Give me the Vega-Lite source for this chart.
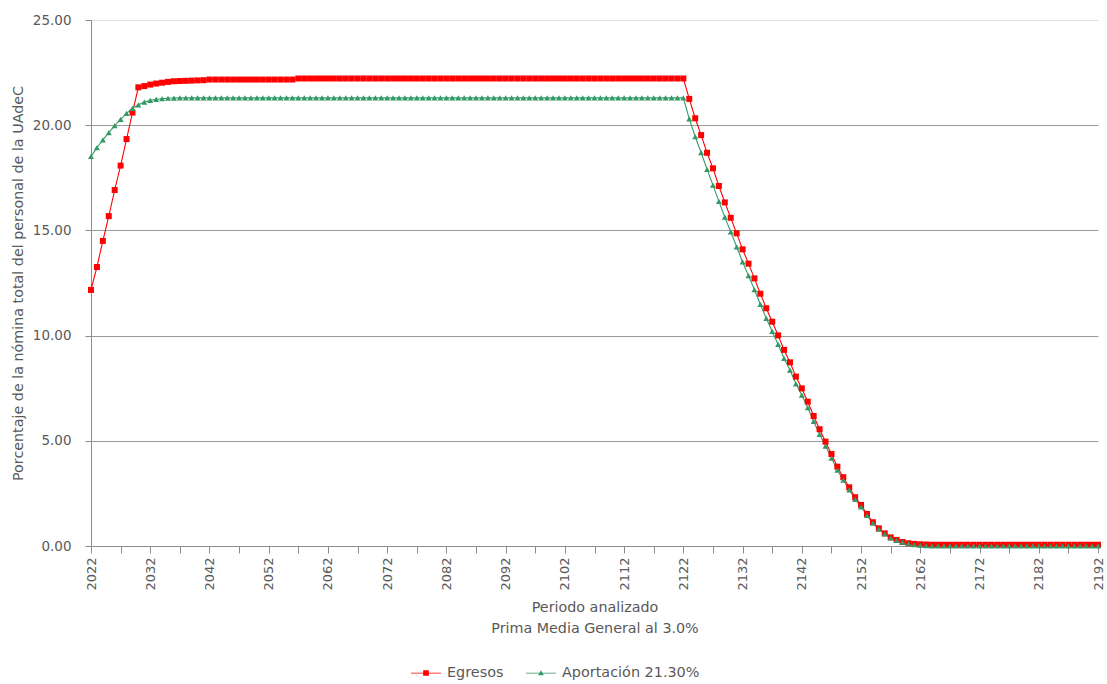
{
"$schema":"https://vega.github.io/schema/vega-lite/v6.json",
"autosize":{"type":"none"},
"width":1007,"height":526,
"padding":{"left":91,"top":20,"right":9,"bottom":138},
"background":"white",
"config":{"view":{"stroke":null},"font":"DejaVu Sans"},
"data":{"values":[
{"year":2022,"series":"Egresos","value":12.17},{"year":2023,"series":"Egresos","value":13.26},{"year":2024,"series":"Egresos","value":14.5},{"year":2025,"series":"Egresos","value":15.68},{"year":2026,"series":"Egresos","value":16.92},{"year":2027,"series":"Egresos","value":18.08},{"year":2028,"series":"Egresos","value":19.34},{"year":2029,"series":"Egresos","value":20.6},{"year":2030,"series":"Egresos","value":21.8},{"year":2031,"series":"Egresos","value":21.86},{"year":2032,"series":"Egresos","value":21.93},{"year":2033,"series":"Egresos","value":21.98},{"year":2034,"series":"Egresos","value":22.02},{"year":2035,"series":"Egresos","value":22.06},{"year":2036,"series":"Egresos","value":22.09},{"year":2037,"series":"Egresos","value":22.1},{"year":2038,"series":"Egresos","value":22.11},{"year":2039,"series":"Egresos","value":22.12},{"year":2040,"series":"Egresos","value":22.13},{"year":2041,"series":"Egresos","value":22.14},
{"year":2042,"series":"Egresos","value":22.17},{"year":2043,"series":"Egresos","value":22.17},{"year":2044,"series":"Egresos","value":22.17},{"year":2045,"series":"Egresos","value":22.17},{"year":2046,"series":"Egresos","value":22.17},{"year":2047,"series":"Egresos","value":22.17},{"year":2048,"series":"Egresos","value":22.17},{"year":2049,"series":"Egresos","value":22.17},{"year":2050,"series":"Egresos","value":22.17},{"year":2051,"series":"Egresos","value":22.17},{"year":2052,"series":"Egresos","value":22.17},{"year":2053,"series":"Egresos","value":22.17},{"year":2054,"series":"Egresos","value":22.17},{"year":2055,"series":"Egresos","value":22.17},{"year":2056,"series":"Egresos","value":22.17},
{"year":2057,"series":"Egresos","value":22.22},{"year":2058,"series":"Egresos","value":22.22},{"year":2059,"series":"Egresos","value":22.22},{"year":2060,"series":"Egresos","value":22.22},{"year":2061,"series":"Egresos","value":22.22},{"year":2062,"series":"Egresos","value":22.22},{"year":2063,"series":"Egresos","value":22.22},{"year":2064,"series":"Egresos","value":22.22},{"year":2065,"series":"Egresos","value":22.22},{"year":2066,"series":"Egresos","value":22.22},{"year":2067,"series":"Egresos","value":22.22},{"year":2068,"series":"Egresos","value":22.22},{"year":2069,"series":"Egresos","value":22.22},{"year":2070,"series":"Egresos","value":22.22},{"year":2071,"series":"Egresos","value":22.22},{"year":2072,"series":"Egresos","value":22.22},{"year":2073,"series":"Egresos","value":22.22},{"year":2074,"series":"Egresos","value":22.22},{"year":2075,"series":"Egresos","value":22.22},{"year":2076,"series":"Egresos","value":22.22},{"year":2077,"series":"Egresos","value":22.22},{"year":2078,"series":"Egresos","value":22.22},{"year":2079,"series":"Egresos","value":22.22},{"year":2080,"series":"Egresos","value":22.22},{"year":2081,"series":"Egresos","value":22.22},{"year":2082,"series":"Egresos","value":22.22},{"year":2083,"series":"Egresos","value":22.22},{"year":2084,"series":"Egresos","value":22.22},{"year":2085,"series":"Egresos","value":22.22},{"year":2086,"series":"Egresos","value":22.22},{"year":2087,"series":"Egresos","value":22.22},{"year":2088,"series":"Egresos","value":22.22},{"year":2089,"series":"Egresos","value":22.22},{"year":2090,"series":"Egresos","value":22.22},{"year":2091,"series":"Egresos","value":22.22},{"year":2092,"series":"Egresos","value":22.22},{"year":2093,"series":"Egresos","value":22.22},{"year":2094,"series":"Egresos","value":22.22},{"year":2095,"series":"Egresos","value":22.22},{"year":2096,"series":"Egresos","value":22.22},{"year":2097,"series":"Egresos","value":22.22},{"year":2098,"series":"Egresos","value":22.22},{"year":2099,"series":"Egresos","value":22.22},{"year":2100,"series":"Egresos","value":22.22},{"year":2101,"series":"Egresos","value":22.22},{"year":2102,"series":"Egresos","value":22.22},{"year":2103,"series":"Egresos","value":22.22},{"year":2104,"series":"Egresos","value":22.22},{"year":2105,"series":"Egresos","value":22.22},{"year":2106,"series":"Egresos","value":22.22},{"year":2107,"series":"Egresos","value":22.22},{"year":2108,"series":"Egresos","value":22.22},{"year":2109,"series":"Egresos","value":22.22},{"year":2110,"series":"Egresos","value":22.22},{"year":2111,"series":"Egresos","value":22.22},{"year":2112,"series":"Egresos","value":22.22},{"year":2113,"series":"Egresos","value":22.22},{"year":2114,"series":"Egresos","value":22.22},{"year":2115,"series":"Egresos","value":22.22},{"year":2116,"series":"Egresos","value":22.22},{"year":2117,"series":"Egresos","value":22.22},{"year":2118,"series":"Egresos","value":22.22},{"year":2119,"series":"Egresos","value":22.22},{"year":2120,"series":"Egresos","value":22.22},{"year":2121,"series":"Egresos","value":22.22},{"year":2122,"series":"Egresos","value":22.22},
{"year":2123,"series":"Egresos","value":21.25},{"year":2124,"series":"Egresos","value":20.33},{"year":2125,"series":"Egresos","value":19.53},{"year":2126,"series":"Egresos","value":18.69},{"year":2127,"series":"Egresos","value":17.95},{"year":2128,"series":"Egresos","value":17.11},{"year":2129,"series":"Egresos","value":16.33},{"year":2130,"series":"Egresos","value":15.6},{"year":2131,"series":"Egresos","value":14.86},{"year":2132,"series":"Egresos","value":14.1},{"year":2133,"series":"Egresos","value":13.42},{"year":2134,"series":"Egresos","value":12.72},{"year":2135,"series":"Egresos","value":11.99},{"year":2136,"series":"Egresos","value":11.3},{"year":2137,"series":"Egresos","value":10.66},{"year":2138,"series":"Egresos","value":10.01},{"year":2139,"series":"Egresos","value":9.32},{"year":2140,"series":"Egresos","value":8.73},{"year":2141,"series":"Egresos","value":8.05},{"year":2142,"series":"Egresos","value":7.49},{"year":2143,"series":"Egresos","value":6.86},{"year":2144,"series":"Egresos","value":6.18},{"year":2145,"series":"Egresos","value":5.55},{"year":2146,"series":"Egresos","value":4.96},{"year":2147,"series":"Egresos","value":4.37},{"year":2148,"series":"Egresos","value":3.77},{"year":2149,"series":"Egresos","value":3.27},{"year":2150,"series":"Egresos","value":2.79},{"year":2151,"series":"Egresos","value":2.32},{"year":2152,"series":"Egresos","value":1.95},{"year":2153,"series":"Egresos","value":1.52},{"year":2154,"series":"Egresos","value":1.13},{"year":2155,"series":"Egresos","value":0.84},{"year":2156,"series":"Egresos","value":0.6},{"year":2157,"series":"Egresos","value":0.41},{"year":2158,"series":"Egresos","value":0.29},{"year":2159,"series":"Egresos","value":0.19},{"year":2160,"series":"Egresos","value":0.13},{"year":2161,"series":"Egresos","value":0.1},{"year":2162,"series":"Egresos","value":0.08},{"year":2163,"series":"Egresos","value":0.07},
{"year":2164,"series":"Egresos","value":0.06},{"year":2165,"series":"Egresos","value":0.06},{"year":2166,"series":"Egresos","value":0.06},{"year":2167,"series":"Egresos","value":0.06},{"year":2168,"series":"Egresos","value":0.06},{"year":2169,"series":"Egresos","value":0.06},{"year":2170,"series":"Egresos","value":0.06},{"year":2171,"series":"Egresos","value":0.06},{"year":2172,"series":"Egresos","value":0.06},{"year":2173,"series":"Egresos","value":0.06},{"year":2174,"series":"Egresos","value":0.06},{"year":2175,"series":"Egresos","value":0.06},{"year":2176,"series":"Egresos","value":0.06},{"year":2177,"series":"Egresos","value":0.06},{"year":2178,"series":"Egresos","value":0.06},{"year":2179,"series":"Egresos","value":0.06},{"year":2180,"series":"Egresos","value":0.06},{"year":2181,"series":"Egresos","value":0.06},{"year":2182,"series":"Egresos","value":0.06},{"year":2183,"series":"Egresos","value":0.06},{"year":2184,"series":"Egresos","value":0.06},{"year":2185,"series":"Egresos","value":0.06},{"year":2186,"series":"Egresos","value":0.06},{"year":2187,"series":"Egresos","value":0.06},{"year":2188,"series":"Egresos","value":0.06},{"year":2189,"series":"Egresos","value":0.06},{"year":2190,"series":"Egresos","value":0.06},{"year":2191,"series":"Egresos","value":0.06},{"year":2192,"series":"Egresos","value":0.06},
{"year":2022,"series":"Aportación 21.30%","value":18.52},{"year":2023,"series":"Aportación 21.30%","value":18.93},{"year":2024,"series":"Aportación 21.30%","value":19.3},{"year":2025,"series":"Aportación 21.30%","value":19.65},{"year":2026,"series":"Aportación 21.30%","value":19.98},{"year":2027,"series":"Aportación 21.30%","value":20.28},{"year":2028,"series":"Aportación 21.30%","value":20.56},{"year":2029,"series":"Aportación 21.30%","value":20.8},{"year":2030,"series":"Aportación 21.30%","value":20.97},{"year":2031,"series":"Aportación 21.30%","value":21.1},{"year":2032,"series":"Aportación 21.30%","value":21.18},{"year":2033,"series":"Aportación 21.30%","value":21.23},{"year":2034,"series":"Aportación 21.30%","value":21.26},{"year":2035,"series":"Aportación 21.30%","value":21.28},{"year":2036,"series":"Aportación 21.30%","value":21.29},
{"year":2037,"series":"Aportación 21.30%","value":21.3},{"year":2038,"series":"Aportación 21.30%","value":21.3},{"year":2039,"series":"Aportación 21.30%","value":21.3},{"year":2040,"series":"Aportación 21.30%","value":21.3},{"year":2041,"series":"Aportación 21.30%","value":21.3},{"year":2042,"series":"Aportación 21.30%","value":21.3},{"year":2043,"series":"Aportación 21.30%","value":21.3},{"year":2044,"series":"Aportación 21.30%","value":21.3},{"year":2045,"series":"Aportación 21.30%","value":21.3},{"year":2046,"series":"Aportación 21.30%","value":21.3},{"year":2047,"series":"Aportación 21.30%","value":21.3},{"year":2048,"series":"Aportación 21.30%","value":21.3},{"year":2049,"series":"Aportación 21.30%","value":21.3},{"year":2050,"series":"Aportación 21.30%","value":21.3},{"year":2051,"series":"Aportación 21.30%","value":21.3},{"year":2052,"series":"Aportación 21.30%","value":21.3},{"year":2053,"series":"Aportación 21.30%","value":21.3},{"year":2054,"series":"Aportación 21.30%","value":21.3},{"year":2055,"series":"Aportación 21.30%","value":21.3},{"year":2056,"series":"Aportación 21.30%","value":21.3},{"year":2057,"series":"Aportación 21.30%","value":21.3},{"year":2058,"series":"Aportación 21.30%","value":21.3},{"year":2059,"series":"Aportación 21.30%","value":21.3},{"year":2060,"series":"Aportación 21.30%","value":21.3},{"year":2061,"series":"Aportación 21.30%","value":21.3},{"year":2062,"series":"Aportación 21.30%","value":21.3},{"year":2063,"series":"Aportación 21.30%","value":21.3},{"year":2064,"series":"Aportación 21.30%","value":21.3},{"year":2065,"series":"Aportación 21.30%","value":21.3},{"year":2066,"series":"Aportación 21.30%","value":21.3},{"year":2067,"series":"Aportación 21.30%","value":21.3},{"year":2068,"series":"Aportación 21.30%","value":21.3},{"year":2069,"series":"Aportación 21.30%","value":21.3},{"year":2070,"series":"Aportación 21.30%","value":21.3},{"year":2071,"series":"Aportación 21.30%","value":21.3},{"year":2072,"series":"Aportación 21.30%","value":21.3},{"year":2073,"series":"Aportación 21.30%","value":21.3},{"year":2074,"series":"Aportación 21.30%","value":21.3},{"year":2075,"series":"Aportación 21.30%","value":21.3},{"year":2076,"series":"Aportación 21.30%","value":21.3},{"year":2077,"series":"Aportación 21.30%","value":21.3},{"year":2078,"series":"Aportación 21.30%","value":21.3},{"year":2079,"series":"Aportación 21.30%","value":21.3},{"year":2080,"series":"Aportación 21.30%","value":21.3},{"year":2081,"series":"Aportación 21.30%","value":21.3},{"year":2082,"series":"Aportación 21.30%","value":21.3},{"year":2083,"series":"Aportación 21.30%","value":21.3},{"year":2084,"series":"Aportación 21.30%","value":21.3},{"year":2085,"series":"Aportación 21.30%","value":21.3},{"year":2086,"series":"Aportación 21.30%","value":21.3},{"year":2087,"series":"Aportación 21.30%","value":21.3},{"year":2088,"series":"Aportación 21.30%","value":21.3},{"year":2089,"series":"Aportación 21.30%","value":21.3},{"year":2090,"series":"Aportación 21.30%","value":21.3},{"year":2091,"series":"Aportación 21.30%","value":21.3},{"year":2092,"series":"Aportación 21.30%","value":21.3},{"year":2093,"series":"Aportación 21.30%","value":21.3},{"year":2094,"series":"Aportación 21.30%","value":21.3},{"year":2095,"series":"Aportación 21.30%","value":21.3},{"year":2096,"series":"Aportación 21.30%","value":21.3},{"year":2097,"series":"Aportación 21.30%","value":21.3},{"year":2098,"series":"Aportación 21.30%","value":21.3},{"year":2099,"series":"Aportación 21.30%","value":21.3},{"year":2100,"series":"Aportación 21.30%","value":21.3},{"year":2101,"series":"Aportación 21.30%","value":21.3},{"year":2102,"series":"Aportación 21.30%","value":21.3},{"year":2103,"series":"Aportación 21.30%","value":21.3},{"year":2104,"series":"Aportación 21.30%","value":21.3},{"year":2105,"series":"Aportación 21.30%","value":21.3},{"year":2106,"series":"Aportación 21.30%","value":21.3},{"year":2107,"series":"Aportación 21.30%","value":21.3},{"year":2108,"series":"Aportación 21.30%","value":21.3},{"year":2109,"series":"Aportación 21.30%","value":21.3},{"year":2110,"series":"Aportación 21.30%","value":21.3},{"year":2111,"series":"Aportación 21.30%","value":21.3},{"year":2112,"series":"Aportación 21.30%","value":21.3},{"year":2113,"series":"Aportación 21.30%","value":21.3},{"year":2114,"series":"Aportación 21.30%","value":21.3},{"year":2115,"series":"Aportación 21.30%","value":21.3},{"year":2116,"series":"Aportación 21.30%","value":21.3},{"year":2117,"series":"Aportación 21.30%","value":21.3},{"year":2118,"series":"Aportación 21.30%","value":21.3},{"year":2119,"series":"Aportación 21.30%","value":21.3},{"year":2120,"series":"Aportación 21.30%","value":21.3},{"year":2121,"series":"Aportación 21.30%","value":21.3},{"year":2122,"series":"Aportación 21.30%","value":21.3},
{"year":2123,"series":"Aportación 21.30%","value":20.3},{"year":2124,"series":"Aportación 21.30%","value":19.45},{"year":2125,"series":"Aportación 21.30%","value":18.7},{"year":2126,"series":"Aportación 21.30%","value":17.9},{"year":2127,"series":"Aportación 21.30%","value":17.15},{"year":2128,"series":"Aportación 21.30%","value":16.38},{"year":2129,"series":"Aportación 21.30%","value":15.63},{"year":2130,"series":"Aportación 21.30%","value":14.93},{"year":2131,"series":"Aportación 21.30%","value":14.22},{"year":2132,"series":"Aportación 21.30%","value":13.5},{"year":2133,"series":"Aportación 21.30%","value":12.85},{"year":2134,"series":"Aportación 21.30%","value":12.18},{"year":2135,"series":"Aportación 21.30%","value":11.48},{"year":2136,"series":"Aportación 21.30%","value":10.82},{"year":2137,"series":"Aportación 21.30%","value":10.2},{"year":2138,"series":"Aportación 21.30%","value":9.58},{"year":2139,"series":"Aportación 21.30%","value":8.92},{"year":2140,"series":"Aportación 21.30%","value":8.36},{"year":2141,"series":"Aportación 21.30%","value":7.71},{"year":2142,"series":"Aportación 21.30%","value":7.17},{"year":2143,"series":"Aportación 21.30%","value":6.57},{"year":2144,"series":"Aportación 21.30%","value":5.92},{"year":2145,"series":"Aportación 21.30%","value":5.31},{"year":2146,"series":"Aportación 21.30%","value":4.75},{"year":2147,"series":"Aportación 21.30%","value":4.18},{"year":2148,"series":"Aportación 21.30%","value":3.61},{"year":2149,"series":"Aportación 21.30%","value":3.13},{"year":2150,"series":"Aportación 21.30%","value":2.67},{"year":2151,"series":"Aportación 21.30%","value":2.22},{"year":2152,"series":"Aportación 21.30%","value":1.86},{"year":2153,"series":"Aportación 21.30%","value":1.45},{"year":2154,"series":"Aportación 21.30%","value":1.08},{"year":2155,"series":"Aportación 21.30%","value":0.8},{"year":2156,"series":"Aportación 21.30%","value":0.57},{"year":2157,"series":"Aportación 21.30%","value":0.39},{"year":2158,"series":"Aportación 21.30%","value":0.27},{"year":2159,"series":"Aportación 21.30%","value":0.18},{"year":2160,"series":"Aportación 21.30%","value":0.12},{"year":2161,"series":"Aportación 21.30%","value":0.07},{"year":2162,"series":"Aportación 21.30%","value":0.04},{"year":2163,"series":"Aportación 21.30%","value":0.02},
{"year":2164,"series":"Aportación 21.30%","value":0.01},{"year":2165,"series":"Aportación 21.30%","value":0.01},{"year":2166,"series":"Aportación 21.30%","value":0.01},{"year":2167,"series":"Aportación 21.30%","value":0.01},{"year":2168,"series":"Aportación 21.30%","value":0.01},{"year":2169,"series":"Aportación 21.30%","value":0.01},{"year":2170,"series":"Aportación 21.30%","value":0.01},{"year":2171,"series":"Aportación 21.30%","value":0.01},{"year":2172,"series":"Aportación 21.30%","value":0.01},{"year":2173,"series":"Aportación 21.30%","value":0.01},{"year":2174,"series":"Aportación 21.30%","value":0.01},{"year":2175,"series":"Aportación 21.30%","value":0.01},{"year":2176,"series":"Aportación 21.30%","value":0.01},{"year":2177,"series":"Aportación 21.30%","value":0.01},{"year":2178,"series":"Aportación 21.30%","value":0.01},{"year":2179,"series":"Aportación 21.30%","value":0.01},{"year":2180,"series":"Aportación 21.30%","value":0.01},{"year":2181,"series":"Aportación 21.30%","value":0.01},{"year":2182,"series":"Aportación 21.30%","value":0.01},{"year":2183,"series":"Aportación 21.30%","value":0.01},{"year":2184,"series":"Aportación 21.30%","value":0.01},{"year":2185,"series":"Aportación 21.30%","value":0.01},{"year":2186,"series":"Aportación 21.30%","value":0.01},{"year":2187,"series":"Aportación 21.30%","value":0.01},{"year":2188,"series":"Aportación 21.30%","value":0.01},{"year":2189,"series":"Aportación 21.30%","value":0.01},{"year":2190,"series":"Aportación 21.30%","value":0.01},{"year":2191,"series":"Aportación 21.30%","value":0.01},{"year":2192,"series":"Aportación 21.30%","value":0.01}
]},
"encoding":{
"x":{"field":"year","type":"quantitative","scale":{"domain":[2022,2192],"nice":false,"zero":false},
"axis":{"title":["Periodo analizado","Prima Media General al 3.0%"],"values":[2022,2027,2032,2037,2042,2047,2052,2057,2062,2067,2072,2077,2082,2087,2092,2097,2102,2107,2112,2117,2122,2127,2132,2137,2142,2147,2152,2157,2162,2167,2172,2177,2182,2187,2192],
"labelExpr":"(datum.value - 2022) % 10 === 0 ? format(datum.value, 'd') : ''","labelAngle":-90,"labelAlign":"right","labelBaseline":"middle","labelFontSize":13,"labelColor":"#595959","labelPadding":4,"labelOverlap":false,"labelFlush":false,
"tickSize":7,"tickColor":"#8c8c8c","domainColor":"#8c8c8c","grid":false,
"titleFontSize":14.3,"titleColor":"#595959","titleFontWeight":"normal","titleBaseline":"top","titleY":54,"titleLineHeight":21}},
"y":{"field":"value","type":"quantitative","scale":{"domain":[0,25],"nice":false},
"axis":{"title":"Porcentaje de la nómina total del personal de la UAdeC","values":[0,5,10,15,20,25],"format":".2f","labelFontSize":13.5,"labelColor":"#595959","labelPadding":14,
"tickSize":6,"tickColor":"#8c8c8c","domainColor":"#8c8c8c","grid":true,"gridColor":{"condition":{"test":"datum.value === 25","value":"#e0e0e0"},"value":"#9a9a9a"},"gridWidth":1,
"titleFontSize":14.3,"titleColor":"#595959","titleFontWeight":"normal","titleAngle":-90,"titleAlign":"center","titleBaseline":"middle","titleX":-73,"titleY":263}}
},
"resolve":{"scale":{"shape":"independent"}},
"layer":[
{"mark":{"type":"line","strokeWidth":1.1},
"encoding":{"color":{"field":"series","type":"nominal","scale":{"domain":["Egresos","Aportación 21.30%"],"range":["#ff0000","#339966"]},"legend":null}}},
{"mark":{"type":"point","filled":true,"opacity":1},
"encoding":{
"color":{"field":"series","type":"nominal","scale":{"domain":["Egresos","Aportación 21.30%"],"range":["#ff0000","#339966"]},"legend":null},
"shape":{"field":"series","type":"nominal","scale":{"domain":["Egresos","Aportación 21.30%"],"range":["square","triangle-up"]},"legend":null},
"size":{"field":"series","type":"nominal","scale":{"domain":["Egresos","Aportación 21.30%"],"range":[36,36]},"legend":null}
}},
{"transform":[{"filter":"datum.year < 0"}],
"mark":{"type":"point","filled":true,"fill":"#ff0000","stroke":"#ff0000","strokeWidth":1.2,"opacity":1},
"encoding":{
"shape":{"field":"series","type":"nominal","scale":{"domain":["Egresos"],"range":["M-1,-0.025H1V0.025H-1ZM-0.19,-0.19H0.19V0.19H-0.19Z"]},
"legend":{"title":null,"orient":"none","legendX":319,"legendY":637,"direction":"horizontal","padding":0,"offset":0,"symbolSize":900,"symbolStrokeWidth":1.2,"symbolFillColor":"#ff0000","symbolStrokeColor":"#ff0000","symbolOpacity":1,"labelOffset":5,"labelFontSize":14.4,"labelColor":"#595959","labelFont":"DejaVu Sans"}}
}},
{"transform":[{"filter":"datum.year < 0"}],
"mark":{"type":"point","filled":true,"fill":"#339966","stroke":"#339966","strokeWidth":1.2,"opacity":1},
"encoding":{
"shape":{"field":"series","type":"nominal","scale":{"domain":["Aportación 21.30%"],"range":["M-1,-0.025H1V0.025H-1ZM0,-0.19L0.19,0.15H-0.19Z"]},
"legend":{"title":null,"orient":"none","legendX":434,"legendY":637,"direction":"horizontal","padding":0,"offset":0,"symbolSize":900,"symbolStrokeWidth":1.2,"symbolFillColor":"#339966","symbolStrokeColor":"#339966","symbolOpacity":1,"labelOffset":5,"labelFontSize":14.4,"labelColor":"#595959","labelFont":"DejaVu Sans"}}
}}
]
}
